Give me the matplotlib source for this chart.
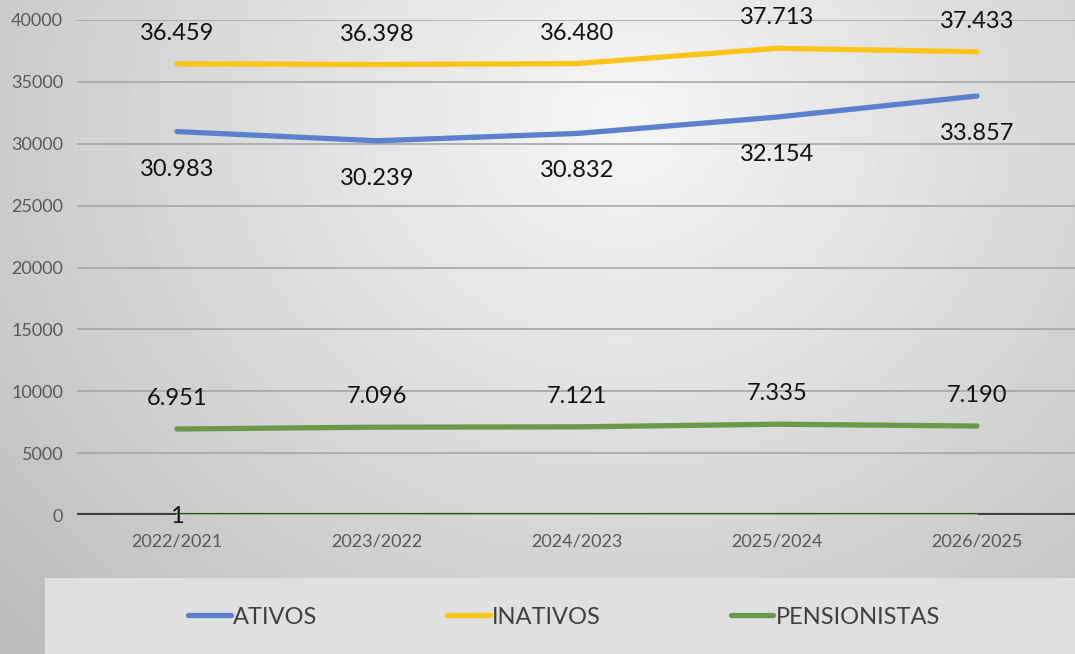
import numpy as np
import matplotlib.pyplot as plt
from matplotlib.patches import Rectangle

# data
periods = ['2022/2021', '2023/2022', '2024/2023', '2025/2024', '2026/2025']
ativos = [30983, 30239, 30832, 32154, 33857]
inativos = [36459, 36398, 36480, 37713, 37433]
pensionistas = [6951, 7096, 7121, 7335, 7190]
outros = [1, 0, 0, 0, 0]

def fmt(v):
    return f'{v:,}'.replace(',', '.')

plt.rcParams['font.family'] = ['Lato', 'DejaVu Sans']

fig = plt.figure(figsize=(10.75, 6.54), dpi=100)

# gray radial background, lighter near the top centre
bg = fig.add_axes([0, 0, 1, 1], zorder=-2)
yy, xx = np.mgrid[0:654, 0:1075]
r = np.sqrt(((xx - 620) / 700.0) ** 2 + ((yy - 120) / 620.0) ** 2)
shade = np.clip(0.965 - 0.19 * r, 0.74, 1)
bg.imshow(shade, cmap='gray', vmin=0, vmax=1, aspect='auto', interpolation='bilinear')
bg.axis('off')

# legend box
fig.patches.append(Rectangle((45 / 1075, 0), 1, 76 / 654, transform=fig.transFigure,
                             facecolor='#e0e0e0', edgecolor='none', zorder=-1))

ax = fig.add_axes([77 / 1075, 1 - 515 / 654, 1000 / 1075, 495 / 654])
ax.set_facecolor('none')
x = np.arange(len(periods))

blue = '#5b80cc'
yellow = '#fcc419'
green = '#6a9a48'

ax.plot(x, ativos, color=blue, lw=3.8, solid_capstyle='round', label='ATIVOS', zorder=3)
ax.plot(x, inativos, color=yellow, lw=3.8, solid_capstyle='round', label='INATIVOS', zorder=3)
ax.plot(x, pensionistas, color=green, lw=3.8, solid_capstyle='round', label='PENSIONISTAS', zorder=3)
ax.axhline(0, color='#404040', lw=3, zorder=2)
ax.plot(x, outros, color='#86bd62', lw=1.4, zorder=3)

lab = dict(ha='center', va='center', fontsize=17, color='#111111', annotation_clip=False)
for i in x:
    ax.annotate(fmt(inativos[i]), (i, inativos[i]), xytext=(0, 22), textcoords='offset points', **lab)
    ax.annotate(fmt(ativos[i]), (i, ativos[i]), xytext=(0, -27), textcoords='offset points', **lab)
    ax.annotate(fmt(pensionistas[i]), (i, pensionistas[i]), xytext=(0, 22), textcoords='offset points', **lab)
ax.annotate(fmt(outros[0]), (0, outros[0]), xytext=(0, -1), textcoords='offset points', **lab)

ax.set_xlim(-0.5, 4.5)
ax.set_ylim(0, 40000)
ax.set_yticks(range(0, 40001, 5000))
ax.set_xticks(x)
ax.set_xticklabels(periods)
ax.grid(axis='y', color='#a6a6a6', lw=1.2, zorder=1)
ax.set_axisbelow(True)
for s in ax.spines.values():
    s.set_visible(False)
ax.tick_params(length=0, labelsize=13, labelcolor='#595959')
ax.tick_params(axis='y', pad=10)
ax.tick_params(axis='x', pad=13)

fig.legend(loc='center', bbox_to_anchor=(564 / 1075, 1 - 617 / 654), ncol=3, frameon=False,
           prop={'size': 17}, labelcolor='#404040',
           handlelength=1.8, handletextpad=0.1, columnspacing=5.5)

fig.savefig('out.png', dpi=100)
